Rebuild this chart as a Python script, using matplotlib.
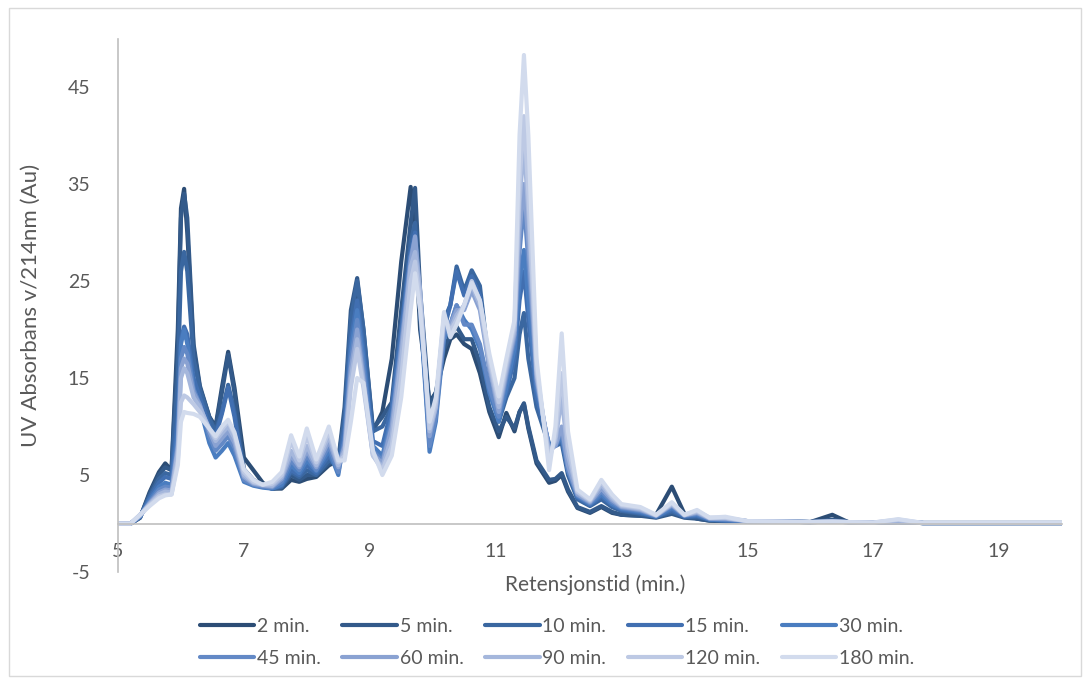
import matplotlib
matplotlib.use("Agg")
import matplotlib.pyplot as plt
from matplotlib.patches import Rectangle

plt.rcParams['font.family'] = ['Lato', 'DejaVu Sans']
plt.rcParams['axes.unicode_minus'] = False

# retention times (min.) shared by all runs
retention = [5.0, 5.2, 5.35, 5.5, 5.65, 5.75, 5.85, 5.95, 6.0, 6.05,
             6.1, 6.2, 6.3, 6.45, 6.55, 6.65, 6.75, 6.85, 7.0, 7.15,
             7.3, 7.45, 7.6, 7.75, 7.88, 8.0, 8.15, 8.35, 8.5, 8.6,
             8.7, 8.8, 8.9, 9.05, 9.2, 9.35, 9.5, 9.65, 9.72, 9.8,
             9.95, 10.05, 10.18, 10.28, 10.38, 10.5, 10.62, 10.75, 10.9, 11.05,
             11.17, 11.3, 11.38, 11.45, 11.52, 11.65, 11.85, 11.95, 12.05, 12.15,
             12.3, 12.5, 12.68, 12.85, 13.0, 13.3, 13.55, 13.8, 14.0, 14.2,
             14.4, 14.65, 15.0, 15.5, 16.0, 16.35, 16.6, 17.0, 17.4, 17.8,
             18.5, 20.0]

labels = ['2 min.', '5 min.', '10 min.', '15 min.', '30 min.',
          '45 min.', '60 min.', '90 min.', '120 min.', '180 min.']

colors = ['#2c4d75', '#335a8a', '#3a67a0', '#416fb1', '#4a7dc0',
          '#6389c6', '#8aa2d2', '#a5b7dc', '#bdc9e4', '#d2dbed']

abs_2 = [0, 0, 0.6, 3.2, 5.3, 6.2, 5.5, 20, 32.5, 34.5,
         30, 18, 14, 11, 10, 14, 17.7, 14, 6.8, 5.5,
         4.2, 3.6, 3.6, 4.5, 4.3, 4.6, 4.8, 6.0, 6.5, 11,
         20, 24, 18, 9.5, 11.5, 17, 27, 34.7, 30, 20,
         12.5, 13.5, 17, 19, 19.5, 18.5, 18, 15.5, 11.5, 8.9,
         11.4, 9.5, 11.5, 12.3, 9.8, 6.2, 4.2, 4.4, 5.0, 3.3,
         1.6, 1.1, 1.7, 1.1, 0.9, 0.8, 0.9, 3.8, 1.0, 0.5,
         0.3, 0.25, 0.25, 0.2, 0.15, 0.9, 0.15, 0.1, 0.15, 0.05,
         0.05, 0.05]

abs_5 = [0, 0, 0.6, 3.0, 5.0, 5.8, 5.5, 18, 31.5, 34.0,
         31.5, 18.5, 14.2, 11, 9.8, 13.5, 17.4, 13.5, 5.6, 4.5,
         4.0, 3.6, 3.7, 5.0, 4.5, 5.0, 5.0, 6.2, 6.5, 12,
         22, 25.3, 20, 9.8, 11, 12.5, 22, 31, 34.6, 24,
         12, 13.5, 18, 19.5, 20.3, 19, 19, 16.5, 12, 9.5,
         11, 9.8, 11.5, 12.4, 10, 6.5, 4.5, 4.6, 5.2, 3.5,
         1.7, 1.2, 1.8, 1.2, 0.9, 0.8, 0.6, 1.0, 0.6, 0.5,
         0.3, 0.25, 0.25, 0.2, 0.15, 0.4, 0.15, 0.1, 0.15, 0.05,
         0.05, 0.05]

abs_10 = [0, 0, 0.7, 2.8, 4.6, 5.2, 5.0, 15, 26, 28,
          26, 17, 13.8, 10.8, 9.5, 11.5, 14.3, 11.5, 5.3, 4.3,
          3.9, 3.6, 3.8, 5.3, 4.8, 5.5, 5.0, 6.5, 6.0, 11,
          21, 25, 20, 9.5, 10, 12, 20, 29, 31, 22,
          10, 12.5, 21, 22.5, 26.5, 24, 26.1, 24.5, 16, 10.5,
          13, 15, 19.5, 21.7, 17, 12, 8.0, 8.0, 8.3, 5.0,
          2.5, 1.8, 2.5, 1.7, 1.3, 1.0, 0.7, 1.2, 0.7, 0.7,
          0.4, 0.3, 0.25, 0.2, 0.15, 0.2, 0.15, 0.1, 0.15, 0.05,
          0.05, 0.05]

abs_15 = [0, 0, 0.7, 2.6, 4.2, 4.8, 4.6, 11, 19, 20.3,
          19.5, 15, 13, 10, 9, 11.3, 14, 11, 5.0, 4.2,
          3.8, 3.6, 3.9, 5.5, 5.0, 6.0, 5.2, 7.0, 5.5, 10,
          19, 23, 18, 8.5, 8, 12, 20, 28, 30, 22,
          8.5, 11.5, 20, 22.5, 26, 23.5, 25.5, 23.5, 16, 11,
          13.5, 17, 23, 26, 21, 13, 8.2, 8.0, 8.7, 5.5,
          2.7, 1.9, 2.8, 1.9, 1.4, 1.1, 0.7, 1.4, 0.7, 0.8,
          0.4, 0.3, 0.25, 0.2, 0.15, 0.2, 0.15, 0.1, 0.15, 0.05,
          0.05, 0.05]

abs_30 = [0, 0, 0.7, 2.4, 3.8, 4.2, 4.0, 9.5, 18.5, 20,
          18.5, 14, 12, 8.3, 6.8, 7.5, 8.3, 7.0, 4.3, 3.9,
          3.7, 3.6, 4.0, 6.0, 5.2, 6.5, 5.4, 7.5, 5.0, 9,
          18, 22, 17, 8, 7, 11, 19, 27.5, 29, 22,
          7.4, 10.5, 19, 20.5, 22.5, 21, 20, 18, 13.5, 10.5,
          14, 18, 25, 28.2, 23, 14, 8.0, 8.0, 9.0, 5.5,
          2.8, 2.0, 3.0, 2.0, 1.5, 1.2, 0.7, 1.6, 0.8, 0.9,
          0.4, 0.35, 0.25, 0.2, 0.15, 0.2, 0.15, 0.1, 0.15, 0.05,
          0.05, 0.05]

abs_45 = [0, 0, 0.8, 2.2, 3.5, 3.8, 3.7, 8.5, 17, 18.2,
          17.5, 13.8, 12.3, 9, 7.5, 8.2, 9, 7.8, 4.5, 4.0,
          3.8, 3.7, 4.3, 6.5, 5.5, 7.0, 5.5, 8.0, 5.3, 8.5,
          17, 21, 16, 7.5, 6.5, 10.5, 18.5, 27.5, 29.5, 23,
          8, 11, 19.5, 20.5, 22.5, 20.5, 20.5, 18.5, 14, 11,
          15, 19, 28, 33, 27, 14.5, 7.8, 8.0, 9.5, 5.5,
          2.9, 2.1, 3.3, 2.2, 1.6, 1.3, 0.8, 1.8, 0.8, 1.0,
          0.5, 0.4, 0.25, 0.2, 0.15, 0.2, 0.15, 0.1, 0.15, 0.05,
          0.05, 0.05]

abs_60 = [0, 0, 0.8, 2.1, 3.2, 3.5, 3.4, 8, 16, 17,
          16.5, 13.5, 12.2, 9.5, 8, 8.8, 9.5, 8.3, 4.8, 4.1,
          3.9, 3.8, 4.6, 7.0, 5.8, 7.5, 5.8, 8.5, 5.8, 8,
          16, 20, 15, 7.2, 6.2, 10, 18, 27, 29.6, 24,
          9, 12, 20.5, 20.5, 22, 22, 24, 22, 16, 11.5,
          15.5, 19.5, 30, 35, 29, 15, 7.5, 8.0, 10, 6.0,
          3.0, 2.2, 3.6, 2.4, 1.7, 1.4, 0.8, 1.9, 0.85, 1.1,
          0.5, 0.5, 0.25, 0.2, 0.15, 0.2, 0.15, 0.1, 0.15, 0.05,
          0.05, 0.05]

abs_90 = [0, 0, 0.9, 2.0, 3.0, 3.3, 3.2, 7.5, 15, 16,
          15.5, 13, 12, 9.8, 8.5, 9.3, 10, 8.8, 5.0, 4.2,
          4.0, 3.9, 4.8, 7.5, 6.0, 8.0, 6.0, 9.0, 6.0, 7.5,
          15, 19, 14.5, 7, 5.8, 9, 17, 26.5, 28, 24,
          9.5, 12, 21, 20, 21.5, 22.5, 24.6, 22.5, 16.5, 12,
          16, 20, 33, 39.2, 32, 15.5, 7.0, 8.5, 13, 7.0,
          3.2, 2.3, 4.0, 2.6, 1.8, 1.5, 0.85, 2.0, 0.85, 1.2,
          0.55, 0.55, 0.25, 0.2, 0.15, 0.2, 0.15, 0.1, 0.3, 0.05,
          0.05, 0.05]

abs_120 = [0, 0, 0.9, 1.9, 2.8, 3.0, 3.0, 6.5, 12.5, 13.2,
           13, 12.3, 11.5, 9.8, 8.8, 9.7, 10.5, 9.2, 5.3, 4.3,
           4.0, 4.1, 5.0, 8.5, 6.5, 9.0, 6.3, 9.5, 6.3, 7,
           14, 18, 14, 7, 5.5, 8, 15, 25, 27, 23,
           9.8, 12.5, 21.5, 19.8, 21, 22.5, 25, 23, 17, 12.5,
           16.5, 20.5, 35, 42, 34, 16, 6.5, 9.0, 15.5, 8.0,
           3.3, 2.4, 4.3, 2.8, 1.9, 1.6, 0.85, 2.1, 0.9, 1.3,
           0.6, 0.6, 0.25, 0.2, 0.15, 0.2, 0.15, 0.1, 0.4, 0.05,
           0.05, 0.05]

abs_180 = [0, 0, 0.9, 1.8, 2.6, 2.9, 3.0, 6, 10.5, 11.5,
           11.4, 11.3, 11, 9.8, 9, 10, 10.7, 9.4, 5.6, 4.5,
           4.0, 4.3, 5.3, 9.1, 6.9, 9.8, 6.6, 10.0, 6.5, 6.5,
           10.5, 15, 14.5, 7.5, 5.0, 7, 13, 22, 25.8, 22,
           10.5, 13, 21.8, 19.2, 20.5, 22.5, 24.8, 23, 17.5, 13.1,
           17, 21, 40, 48.3, 40, 17, 5.5, 10, 19.6, 9.5,
           3.5, 2.5, 4.5, 3.0, 2.0, 1.7, 0.9, 2.2, 0.9, 1.4,
           0.6, 0.7, 0.25, 0.2, 0.15, 0.2, 0.15, 0.1, 0.45, 0.05,
           0.05, 0.05]

series = [abs_2, abs_5, abs_10, abs_15, abs_30,
          abs_45, abs_60, abs_90, abs_120, abs_180]

x_ticks = [5, 7, 9, 11, 13, 15, 17, 19]
y_ticks = [-5, 5, 15, 25, 35, 45]

fig = plt.figure(figsize=(10.9, 6.84), dpi=100)
ax = fig.add_axes([0.1083, 0.1637, 0.866, 0.78])

lines = []
for vals, lab, col in zip(series, labels, colors):
    ln, = ax.plot(retention, vals, color=col, lw=3.0, label=lab,
                  solid_joinstyle='round', solid_capstyle='round')
    lines.append(ln)

ax.set_xlim(5, 20)
ax.set_ylim(-5, 50)
ax.set_xticks(x_ticks)
ax.set_yticks(y_ticks)

for side in ['top', 'right']:
    ax.spines[side].set_visible(False)
ax.spines['bottom'].set_position(('data', 0))
ax.spines['bottom'].set_color('#bfbfbf')
ax.spines['left'].set_color('#bfbfbf')
ax.spines['bottom'].set_linewidth(1.2)
ax.spines['left'].set_linewidth(1.2)
ax.tick_params(axis='both', length=0, labelsize=14, colors='#595959')
ax.tick_params(axis='x', pad=14)
ax.tick_params(axis='y', pad=20)

ax.set_xlabel('Retensjonstid (min.)', fontsize=15, color='#595959')
ax.xaxis.set_label_coords(0.505, -0.004)
ax.set_ylabel('UV Absorbans v/214nm (Au)', fontsize=16, color='#595959')
ax.yaxis.set_label_coords(-0.082, 0.5)

# legend is filled column by column, so interleave to get the row order
order = [0, 5, 1, 6, 2, 7, 3, 8, 4, 9]
leg = fig.legend([lines[i] for i in order], [labels[i] for i in order],
                 loc='center', bbox_to_anchor=(0.511, 0.061), ncol=5,
                 frameon=False, fontsize=14, handlelength=2.8,
                 columnspacing=1.1, handletextpad=0.15, labelspacing=0.75,
                 labelcolor='#595959')

# chart area border
fig.patches.append(Rectangle((0.008, 0.012), 0.984, 0.976, transform=fig.transFigure,
                             fill=False, edgecolor='#d9d9d9', lw=1))

fig.savefig('out.png', dpi=100)
